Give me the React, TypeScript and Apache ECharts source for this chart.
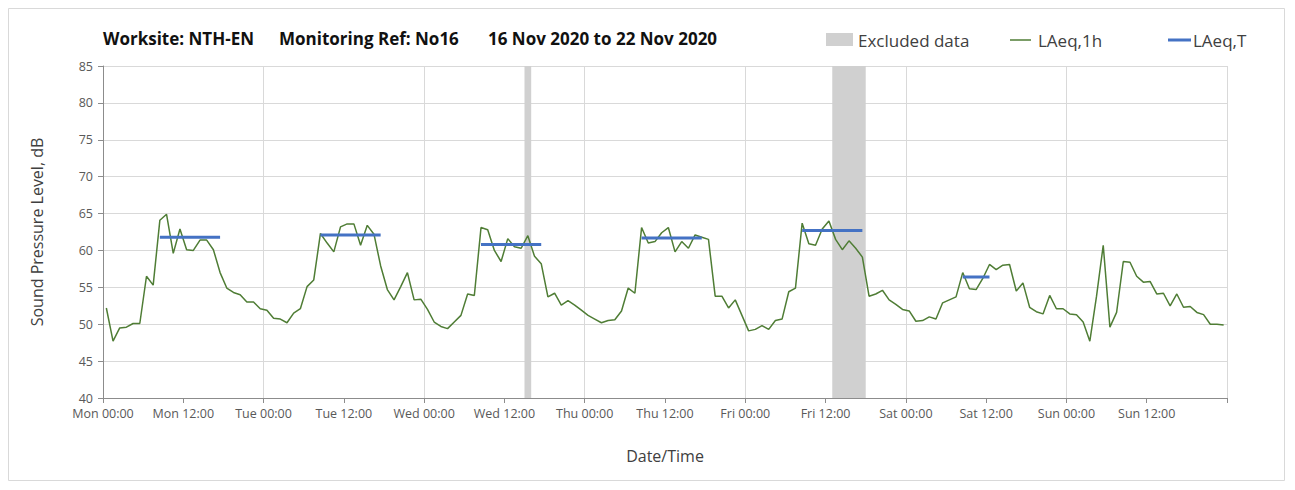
import React, { useEffect, useRef } from "react";
import * as echarts from "echarts";

// ---- Data ----
const dayNames = ["Mon", "Tue", "Wed", "Thu", "Fri", "Sat", "Sun"];

// Hourly LAeq,1h values, 00:00..23:00 for each day
const monLAeq1h = [52.2, 47.7, 49.5, 49.6, 50.1, 50.1, 56.5, 55.3, 64.1, 64.9, 59.6, 62.9, 60.1, 60.0, 61.4, 61.4, 60.1, 57.0, 54.9, 54.3, 54.0, 53.0, 53.0, 52.1];
const tueLAeq1h = [51.9, 50.8, 50.7, 50.2, 51.5, 52.1, 55.1, 56.0, 62.3, 61.0, 59.8, 63.2, 63.6, 63.6, 60.7, 63.4, 62.2, 57.9, 54.7, 53.3, 55.1, 57.0, 53.3, 53.4];
const wedLAeq1h = [52.0, 50.3, 49.7, 49.4, 50.3, 51.2, 54.1, 53.9, 63.1, 62.8, 60.0, 58.5, 61.6, 60.5, 60.3, 62.0, 59.2, 58.2, 53.7, 54.2, 52.6, 53.2, 52.6, 51.9];
const thuLAeq1h = [51.2, 50.7, 50.2, 50.5, 50.6, 51.8, 54.9, 54.2, 63.1, 61.0, 61.2, 62.4, 63.1, 59.8, 61.2, 60.3, 62.1, 61.8, 61.5, 53.8, 53.8, 52.2, 53.3, 51.2];
const friLAeq1h = [49.1, 49.3, 49.8, 49.3, 50.5, 50.7, 54.4, 54.9, 63.7, 60.9, 60.7, 62.9, 64.0, 61.5, 60.1, 61.3, 60.3, 59.1, 53.8, 54.1, 54.6, 53.3, 52.7, 52.0];
const satLAeq1h = [51.8, 50.4, 50.5, 51.0, 50.7, 52.9, 53.3, 53.7, 57.0, 54.8, 54.7, 56.2, 58.1, 57.4, 58.0, 58.1, 54.5, 55.6, 52.3, 51.7, 51.4, 53.9, 52.1, 52.1];
const sunLAeq1h = [51.4, 51.3, 50.3, 47.7, 53.8, 60.7, 49.6, 51.6, 58.5, 58.4, 56.5, 55.7, 55.8, 54.1, 54.2, 52.5, 54.1, 52.3, 52.4, 51.6, 51.3, 50.0, 50.0, 49.9];

// LAeq,T per monitored day period
const laeqTDay = [0, 1, 2, 3, 4, 5];
const laeqTStartHour = [8, 8, 8, 8, 8, 8];
const laeqTEndHour = [17, 17, 17, 17, 17, 12];
const laeqTValue = [61.8, 62.1, 60.8, 61.7, 62.7, 56.4];

// Excluded periods, in hours from Mon 00:00
const excludedStart = [63, 109];
const excludedEnd = [64, 114];

// Axis ticks
const yMin = 40;
const yMax = 85;
const yStep = 5;
const xStepHours = 12;
const totalHours = 168;

const titleParts = ["Worksite: NTH-EN", "Monitoring Ref: No16", "16 Nov 2020 to 22 Nov 2020"];
const legendNames = ["Excluded data", "LAeq,1h", "LAeq,T"];

export default function App() {
  const ref = useRef<HTMLDivElement>(null);

  useEffect(() => {
    if (!ref.current) return;
    const chart = echarts.init(ref.current, undefined, { renderer: "svg" });

    const hourly = [...monLAeq1h, ...tueLAeq1h, ...wedLAeq1h, ...thuLAeq1h, ...friLAeq1h, ...satLAeq1h, ...sunLAeq1h];
    const laeq1hData = hourly.map((v, i) => [i + 0.5, v]);

    const laeqT: (number | null)[] = hourly.map(() => null);
    laeqTDay.forEach((d, k) => {
      for (let h = laeqTStartHour[k]; h <= laeqTEndHour[k]; h++) laeqT[d * 24 + h] = laeqTValue[k];
    });
    const laeqTData = laeqT.map((v, i) => [i + 0.5, v]);

    const font = "'Open Sans', sans-serif";
    const labelColor = "#595959";
    const axisColor = "#8c8c8c";
    const gridColor = "#d9d9d9";
    const green = "#4f7d35";
    const blue = "#4472c4";
    const grey = "#d0d0d0";

    const titleStyle = (text: string) => ({
      text,
      fontFamily: font,
      fontWeight: "bold",
      fontSize: 17,
      fill: "#111",
      textVerticalAlign: "middle",
    });
    const legendStyle = (text: string) => ({
      text,
      fontFamily: font,
      fontSize: 17,
      fill: "#404040",
      textVerticalAlign: "middle",
    });

    chart.setOption({
      animation: false,
      backgroundColor: "#ffffff",
      grid: { left: 95, right: 60, top: 58, bottom: 84, containLabel: false },
      xAxis: [
        {
          type: "value",
          min: 0,
          max: totalHours,
          interval: xStepHours,
          name: "Date/Time",
          nameLocation: "middle",
          nameGap: 50,
          nameTextStyle: { fontFamily: font, fontSize: 16, color: "#404040" },
          axisLine: { show: true, lineStyle: { color: axisColor, width: 1 } },
          axisTick: { show: true, length: 5, lineStyle: { color: axisColor } },
          axisLabel: {
            margin: 9,
            fontFamily: font,
            fontSize: 12.5,
            color: labelColor,
            formatter: (v: number) => {
              if (v >= totalHours) return "";
              const d = Math.floor(v / 24);
              return dayNames[d] + (v % 24 === 0 ? " 00:00" : " 12:00");
            },
          },
          splitLine: { show: false },
        },
        {
          type: "value",
          min: 0,
          max: totalHours,
          interval: 24,
          position: "bottom",
          axisLine: { show: false },
          axisTick: { show: false },
          axisLabel: { show: false },
          splitLine: { show: true, lineStyle: { color: gridColor, width: 1 } },
        },
      ],
      yAxis: {
        type: "value",
        min: yMin,
        max: yMax,
        interval: yStep,
        name: "Sound Pressure Level, dB",
        nameLocation: "middle",
        nameGap: 58,
        nameRotate: 90,
        nameTextStyle: { fontFamily: font, fontSize: 16, color: "#404040" },
        axisLine: { show: true, lineStyle: { color: axisColor, width: 1 } },
        axisTick: { show: true, length: 5, lineStyle: { color: axisColor } },
        axisLabel: { margin: 10, fontFamily: font, fontSize: 12.5, color: labelColor },
        splitLine: { show: true, lineStyle: { color: gridColor, width: 1 } },
      },
      series: [
        {
          name: legendNames[1],
          type: "line",
          xAxisIndex: 0,
          data: laeq1hData,
          showSymbol: false,
          lineStyle: { color: green, width: 1.5 },
          itemStyle: { color: green },
          z: 3,
          markArea: {
            silent: true,
            itemStyle: { color: grey, opacity: 1 },
            data: excludedStart.map((s, k) => [{ xAxis: s }, { xAxis: excludedEnd[k] }]),
          },
        },
        {
          name: legendNames[2],
          type: "line",
          xAxisIndex: 0,
          data: laeqTData,
          connectNulls: false,
          showSymbol: false,
          lineStyle: { color: blue, width: 3 },
          itemStyle: { color: blue },
          z: 4,
        },
      ],
      graphic: [
        {
          type: "rect",
          shape: { x: 0.5, y: 0.5, width: 1276, height: 472 },
          style: { fill: "none", stroke: "#d9d9d9", lineWidth: 1 },
          silent: true,
        },
        { type: "text", x: 95, y: 30, style: titleStyle(titleParts[0]) },
        { type: "text", x: 271, y: 30, style: titleStyle(titleParts[1]) },
        { type: "text", x: 480, y: 30, style: titleStyle(titleParts[2]) },
        // legend
        { type: "rect", shape: { x: 818, y: 25, width: 27, height: 13 }, style: { fill: grey } },
        { type: "text", x: 850, y: 32, style: legendStyle(legendNames[0]) },
        { type: "line", shape: { x1: 1002, y1: 32, x2: 1023, y2: 32 }, style: { stroke: green, lineWidth: 1.5 } },
        { type: "text", x: 1030, y: 32, style: legendStyle(legendNames[1]) },
        { type: "line", shape: { x1: 1160, y1: 32, x2: 1183, y2: 32 }, style: { stroke: blue, lineWidth: 3 } },
        { type: "text", x: 1185, y: 32, style: legendStyle(legendNames[2]) },
      ],
    });

    return () => chart.dispose();
  }, []);

  return <div ref={ref} style={{ width: 1279, height: 474 }} />;
}
